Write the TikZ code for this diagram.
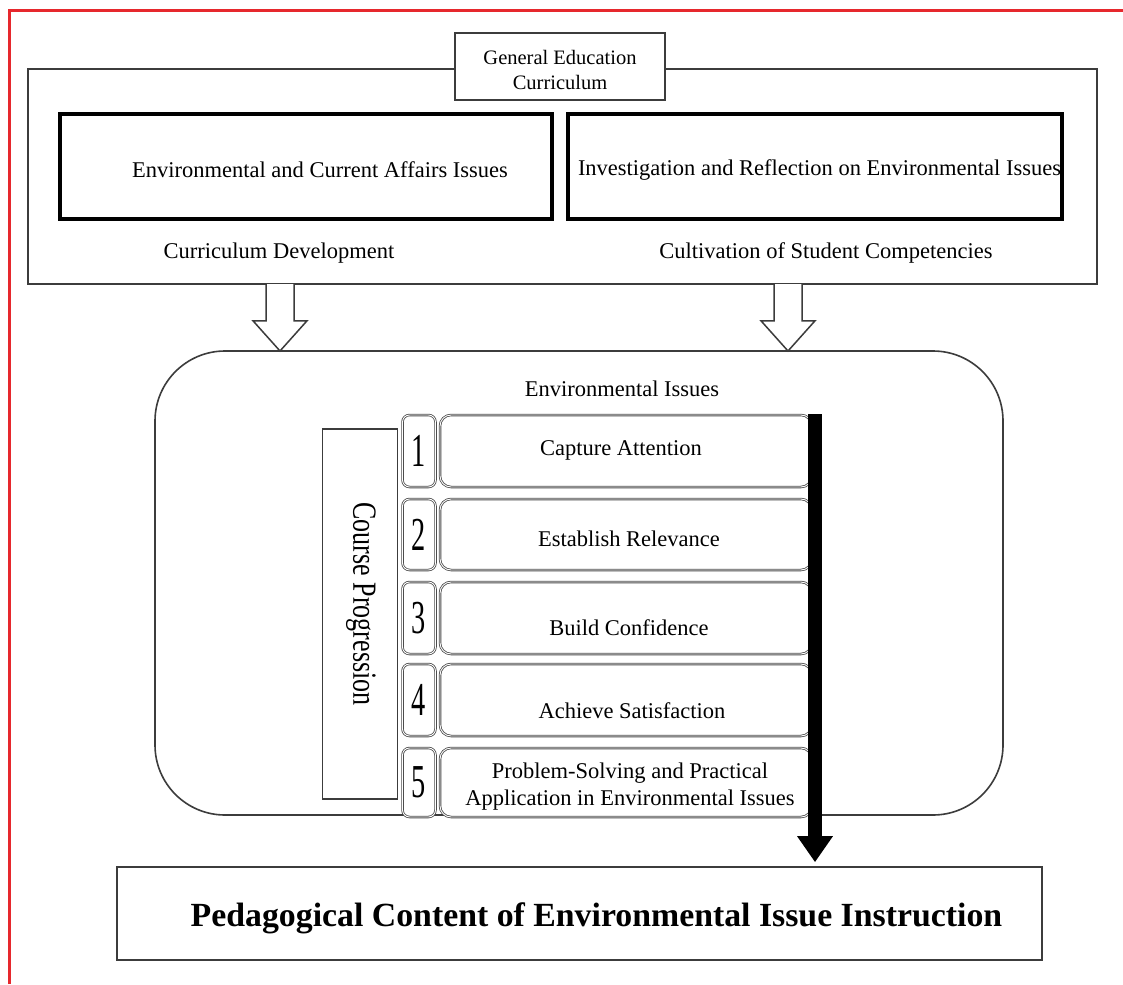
\documentclass[tikz,border=0pt]{standalone}
\usepackage{fontspec}
\setmainfont{Liberation Serif}
\usetikzlibrary{arrows.meta,calc}
\definecolor{framered}{RGB}{230,40,45}
\definecolor{linegray}{RGB}{60,60,60}

\begin{document}
\begin{tikzpicture}[x=1pt,y=-1pt,
  txt/.style={inner sep=0pt, font=\fontsize{22.5}{27}\selectfont, align=center},
  plainbox/.style={draw=linegray, line width=1.6pt, fill=white, inner sep=0pt},
  heavybox/.style={draw=black, line width=3.4pt, inner sep=0pt},
  roundbox/.style={draw=linegray, line width=1.6pt, rounded corners=70pt, inner sep=0pt},
  stepbox/.style={draw=black!70, line width=0.8pt, double=white, double distance=0.9pt,
                  rounded corners=11pt, inner sep=0pt, fill=white},
  numbox/.style={stepbox, rounded corners=7pt, minimum width=33pt},
  hollow/.style={draw=linegray, line width=1.5pt, fill=white, line join=miter},
  digit/.style={inner sep=0pt, font=\fontsize{27}{30}\selectfont}
]
\useasboundingbox (0,0) rectangle (1123,984);
\fill[white] (0,0) rectangle (1123,984);

% red frame (top and left edges)
\draw[framered, line width=2.6pt] (9.5,984) -- (9.5,10.5) -- (1123,10.5);

% top block: curriculum
\node[plainbox, minimum width=1069pt, minimum height=215pt] (outer) at (562.5,176.5) {};
\node[plainbox, minimum width=210pt, minimum height=67pt] (gec) at (560,66.5) {};
\node[inner sep=0pt, font=\fontsize{20.5}{25}\selectfont, align=center] at (560,70)
  {General Education\\Curriculum};
\node[heavybox, minimum width=492pt, minimum height=105pt] (eca) at (306,166.5) {};
\node[txt] at (320,170) {Environmental and Current Affairs Issues};
\node[heavybox, minimum width=494pt, minimum height=105pt] (irf) at (815,166.5) {};
\node[txt] at (819.5,170) {Investigation and Reflection on Environmental Issues};
\node[txt] (cd) at (279,253) {Curriculum Development};
\node[txt] (csc) at (826,253) {Cultivation of Student Competencies};

% middle block: environmental issues
\node[roundbox, minimum width=848pt, minimum height=464pt] (env) at (579,583) {};
\node[txt] (envt) at (622,389) {Environmental Issues};

% hollow arrows from the curriculum box into the issues box
\coordinate (dl) at (280,0);
\coordinate (dr) at (788,0);
\foreach \c in {dl,dr}{
  \draw[hollow]
    ($(\c |- outer.south)+(-14,-0.8)$) -- ($(\c |- outer.south)+(-14,36)$)
    -- ($(\c |- outer.south)+(-27,36)$) -- ($(\c |- env.north)+(0,0.8)$)
    -- ($(\c |- outer.south)+(27,36)$) -- ($(\c |- outer.south)+(14,36)$)
    -- ($(\c |- outer.south)+(14,-0.8)$);
}

% course progression
\node[plainbox, line width=1.4pt, minimum width=75pt, minimum height=370pt] (cp) at (360,614) {};
\node[inner sep=0pt, rotate=-90, font=\fontsize{26}{30}\selectfont] at (361,604)
  {\scalebox{1}[1.3]{Course Progression}};

% numbered steps
\foreach \n/\yc/\h in {1/451/72, 2/534.5/71, 3/618/72, 4/700/72, 5/782.5/69}{
  \node[numbox, minimum height=\h pt] (n\n) at (419,\yc) {};
  \node[digit] at (n\n.center) {\scalebox{1.05}[1.75]{\n}};
  \node[stepbox, minimum width=372pt, minimum height=\h pt] (s\n) at (626,\yc) {};
}
\node[txt] at (621,450) {Capture Attention};
\node[txt] at (629,539) {Establish Relevance};
\node[txt] at (629,628) {Build Confidence};
\node[txt] at (632,711) {Achieve Satisfaction};
\node[txt] at (630,786.5) {Problem-Solving and Practical\\Application in Environmental Issues};

% bottom block
\node[plainbox, minimum width=925pt, minimum height=93pt] (ped) at (579.5,913.5) {};
\node[inner sep=0pt, font=\fontsize{33.8}{38}\selectfont\bfseries] at (596.5,918)
  {Pedagogical Content of Environmental Issue Instruction};

% progression bar
\coordinate (bar) at (815,414);
\draw[black, line width=14pt, -{Triangle[width=34pt,length=26pt]}, shorten >=4pt]
  (bar) -- (bar |- ped.north);
\end{tikzpicture}
\end{document}
